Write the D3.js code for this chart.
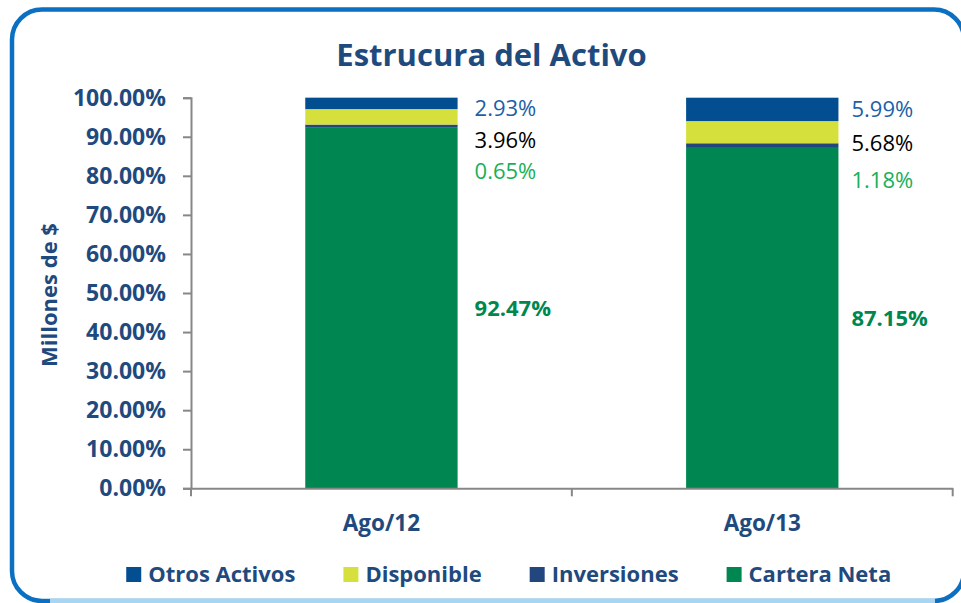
<!DOCTYPE html>
<html>
<head>
<meta charset="utf-8">
<script src="https://cdn.jsdelivr.net/npm/d3@7"></script>
<style>
  html, body { margin: 0; padding: 0; background: #fff; }
  svg { display: block; font-family: "Open Sans", sans-serif; }
</style>
</head>
<body>
<svg id="chart" width="961" height="603"></svg>
<script>
// Data
const categories = ["Ago/12", "Ago/13"];
const seriesNames = ["Cartera Neta", "Inversiones", "Disponible", "Otros Activos"];
const carteraNeta = [92.47, 87.15];
const inversiones = [0.65, 1.18];
const disponible = [3.96, 5.68];
const otrosActivos = [2.93, 5.99];
const yTicks = [0, 10, 20, 30, 40, 50, 60, 70, 80, 90, 100];
const legendOrder = ["Otros Activos", "Disponible", "Inversiones", "Cartera Neta"];

// Layout of the small side labels (in % units of the y scale), as hand placed in the original
const sideLabelLevels = {
  "Ago/12": [97.4, 89.2, 81.2],
  "Ago/13": [97.1, 88.3, 78.9]
};
const sideLabelDx = { "Ago/12": 17, "Ago/13": 13 };

const colors = {
  "Cartera Neta": "#008751",
  "Inversiones": "#22477e",
  "Disponible": "#d6e03d",
  "Otros Activos": "#034e91"
};
const textBlue = "#1f4a7e";

const svg = d3.select("#chart");

// Frame around the chart
svg.append("rect")
  .attr("x", 12).attr("y", 9.5)
  .attr("width", 952).attr("height", 591.5)
  .attr("rx", 30).attr("ry", 30)
  .attr("fill", "none")
  .attr("stroke", "#0b70c1")
  .attr("stroke-width", 4.5);
svg.append("line")
  .attr("x1", 50).attr("x2", 935)
  .attr("y1", 601).attr("y2", 601)
  .attr("stroke", "#a8d6f2")
  .attr("stroke-width", 4.5);

// Title
svg.append("text")
  .attr("x", 491.5).attr("y", 65.7)
  .attr("text-anchor", "middle")
  .attr("font-size", "31px")
  .attr("font-weight", "bold")
  .attr("fill", textBlue)
  .text("Estrucura del Activo");

// Scales
const x = d3.scaleBand()
  .domain(categories)
  .range([191, 952.7])
  .paddingInner(0.6)
  .paddingOuter(0.3);

const y = d3.scaleLinear()
  .domain([0, 100])
  .range([488.3, 97.7]);

// Stack
const table = categories.map((c, i) => ({
  cat: c,
  "Cartera Neta": carteraNeta[i],
  "Inversiones": inversiones[i],
  "Disponible": disponible[i],
  "Otros Activos": otrosActivos[i]
}));
const stacked = d3.stack().keys(seriesNames)(table);

// Y axis
const yAxis = svg.append("g")
  .attr("transform", "translate(191,0)")
  .call(d3.axisLeft(y)
    .tickValues(yTicks)
    .tickSize(8)
    .tickPadding(17)
    .tickFormat(d => d3.format(".2f")(d) + "%"));
yAxis.select(".domain").attr("stroke", "#878787").attr("stroke-width", 2);
yAxis.selectAll(".tick line").attr("stroke", "#878787").attr("stroke-width", 2);
yAxis.selectAll(".tick text")
  .attr("font-size", "23px")
  .attr("font-weight", "bold")
  .attr("fill", textBlue)
  .attr("font-family", "Open Sans, sans-serif");

// Bars
svg.append("g")
  .selectAll("g")
  .data(stacked)
  .join("g")
  .attr("fill", d => colors[d.key])
  .selectAll("rect")
  .data(d => d)
  .join("rect")
  .attr("x", d => x(d.data.cat))
  .attr("width", x.bandwidth())
  .attr("y", d => y(d[1]))
  .attr("height", d => y(d[0]) - y(d[1]));

// X axis
const xAxis = svg.append("g")
  .attr("transform", `translate(0,${y(0)})`)
  .call(d3.axisBottom(x).tickSize(0).tickPadding(27));
xAxis.select(".domain").attr("stroke", "#878787").attr("stroke-width", 2);
xAxis.selectAll(".tick text")
  .attr("font-size", "22.5px")
  .attr("font-weight", "bold")
  .attr("fill", textBlue)
  .attr("font-family", "Open Sans, sans-serif");
const bounds = [x.range()[0]].concat(categories.map(c => x(c) + x.bandwidth() / 2 + x.step() / 2));
xAxis.selectAll(".bound")
  .data(bounds)
  .join("line")
  .attr("class", "bound")
  .attr("x1", d => d).attr("x2", d => d)
  .attr("y1", 0).attr("y2", 8)
  .attr("stroke", "#878787")
  .attr("stroke-width", 2);

// Large labels for Cartera Neta, centred in the segment
svg.append("g")
  .selectAll("text")
  .data(categories)
  .join("text")
  .attr("x", (c) => x(c) + x.bandwidth() + sideLabelDx[c])
  .attr("y", (c, i) => y(carteraNeta[i] / 2))
  .attr("dy", "0.36em")
  .attr("font-size", "22px")
  .attr("font-weight", "bold")
  .attr("fill", "#00874f")
  .text((c, i) => d3.format(".2f")(carteraNeta[i]) + "%");

// Small labels beside the top of each bar
const sideSeries = [
  { values: otrosActivos, color: "#1b60a8" },
  { values: disponible, color: "#000000" },
  { values: inversiones, color: "#17b058" }
];
categories.forEach((c, i) => {
  svg.append("g")
    .selectAll("text")
    .data(sideSeries)
    .join("text")
    .attr("x", x(c) + x.bandwidth() + sideLabelDx[c])
    .attr("y", (s, k) => y(sideLabelLevels[c][k]))
    .attr("dy", "0.36em")
    .attr("font-size", "22px")
    .attr("fill", s => s.color)
    .text(s => d3.format(".2f")(s.values[i]) + "%");
});

// Y axis title
svg.append("text")
  .attr("transform", "translate(56.5,295) rotate(-90)")
  .attr("text-anchor", "middle")
  .attr("font-size", "22px")
  .attr("font-weight", "bold")
  .attr("fill", textBlue)
  .text("Millones de $");

// Legend
const legend = svg.append("g");
const items = legend.selectAll("g")
  .data(legendOrder)
  .join("g");
items.append("rect")
  .attr("width", 15).attr("height", 15)
  .attr("y", 567)
  .attr("fill", d => colors[d]);
items.append("text")
  .attr("x", 22)
  .attr("y", 581.5)
  .attr("font-size", "22px")
  .attr("font-weight", "bold")
  .attr("fill", textBlue)
  .text(d => d);
let cursor = 0;
const offsets = [];
items.each(function () {
  offsets.push(cursor);
  const w = 22 + d3.select(this).select("text").node().getComputedTextLength();
  cursor += w + 48;
});
const totalW = cursor - 48;
const startX = 508.7 - totalW / 2;
items.attr("transform", (d, i) => `translate(${startX + offsets[i]},0)`);
</script>
</body>
</html>
